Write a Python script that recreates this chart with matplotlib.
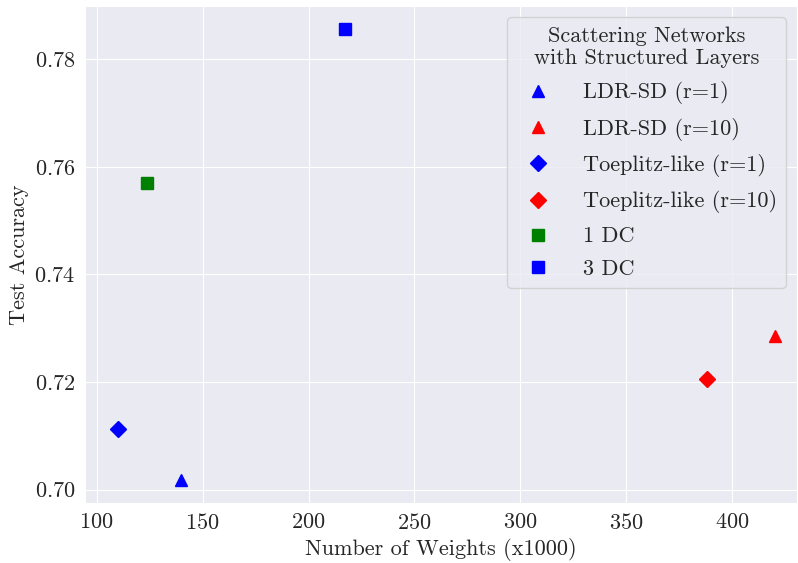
import matplotlib
matplotlib.use('Agg')
import matplotlib.pyplot as plt
import seaborn as sns

sns.set_style('darkgrid')
plt.rcParams['font.family'] = ['cmr10', 'DejaVu Serif']
plt.rcParams['mathtext.fontset'] = 'cm'
plt.rcParams['axes.formatter.use_mathtext'] = True

# weights (x1000) and test accuracy per model
labels = ['LDR-SD (r=1)', 'LDR-SD (r=10)', 'Toeplitz-like (r=1)',
          'Toeplitz-like (r=10)', '1 DC', '3 DC']
weights = [140, 420, 110, 388, 124, 217]
accuracy = [0.7017, 0.7286, 0.7112, 0.7205, 0.7570, 0.7857]
markers = ['^', '^', 'D', 'D', 's', 's']
colors = ['blue', 'red', 'blue', 'red', 'green', 'blue']

fig, ax = plt.subplots(figsize=(7.98, 5.63), dpi=100)
for lab, w, a, m, c in zip(labels, weights, accuracy, markers, colors):
    ax.plot(w, a, linestyle='none', marker=m, color=c, markersize=8, label=lab)

ax.set_xlim(94.5, 430.5)
ax.set_xlabel('Number of Weights (x1000)', fontsize=16)
ax.set_ylabel('Test Accuracy', fontsize=16)
ax.tick_params(labelsize=16)
leg = ax.legend(title='Scattering Networks\nwith Structured Layers', loc='upper right',
                fontsize=16, title_fontsize=16, labelspacing=0.6, handletextpad=1.0)
leg.get_title().set_multialignment('center')

fig.subplots_adjust(left=0.1065, right=0.9987, top=0.9893, bottom=0.1066)
fig.savefig('out.png')
